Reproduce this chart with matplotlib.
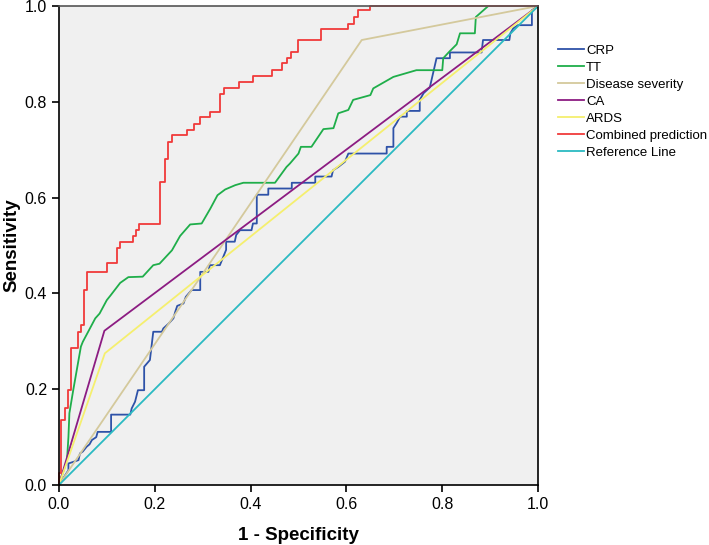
import matplotlib
matplotlib.use("Agg")
import matplotlib.pyplot as plt

plt.rcParams['font.family'] = ['Liberation Sans', 'DejaVu Sans']

# ROC curve vertices (1 - specificity, sensitivity)
crp_x = [0, 0.02, 0.02, 0.041, 0.044, 0.05, 0.058, 0.064, 0.069, 0.078, 0.081, 0.109, 0.109,
         0.149, 0.152, 0.159, 0.165, 0.178, 0.178, 0.19, 0.197, 0.215, 0.218, 0.229, 0.239,
         0.243, 0.247, 0.26, 0.265, 0.277, 0.295, 0.295, 0.312, 0.315, 0.336, 0.349, 0.349,
         0.367, 0.37, 0.378, 0.402, 0.405, 0.413, 0.413, 0.437, 0.437, 0.486, 0.486, 0.535,
         0.535, 0.569, 0.572, 0.583, 0.597, 0.604, 0.684, 0.684, 0.698, 0.698, 0.705, 0.712,
         0.726, 0.726, 0.753, 0.753, 0.761, 0.774, 0.788, 0.816, 0.816, 0.882, 0.885, 0.94,
         0.942, 0.948, 0.958, 0.987, 0.987, 1.0]
crp_y = [0, 0.031, 0.045, 0.052, 0.066, 0.07, 0.08, 0.085, 0.094, 0.1, 0.111, 0.111, 0.147,
         0.147, 0.16, 0.174, 0.198, 0.198, 0.247, 0.261, 0.32, 0.32, 0.327, 0.337, 0.348,
         0.362, 0.374, 0.379, 0.393, 0.407, 0.407, 0.445, 0.445, 0.459, 0.459, 0.491, 0.508,
         0.508, 0.522, 0.532, 0.532, 0.546, 0.546, 0.606, 0.606, 0.619, 0.619, 0.631, 0.631,
         0.644, 0.644, 0.657, 0.664, 0.675, 0.692, 0.692, 0.706, 0.706, 0.745, 0.756, 0.769,
         0.769, 0.781, 0.781, 0.804, 0.818, 0.83, 0.891, 0.891, 0.903, 0.903, 0.929, 0.929,
         0.943, 0.953, 0.96, 0.96, 0.991, 1.0]

tt_x = [0, 0.017, 0.02, 0.022, 0.03, 0.046, 0.05, 0.076, 0.085, 0.1, 0.108, 0.128, 0.145,
        0.175, 0.197, 0.21, 0.236, 0.253, 0.274, 0.298, 0.316, 0.331, 0.347, 0.368, 0.385,
        0.451, 0.475, 0.482, 0.5, 0.505, 0.527, 0.552, 0.573, 0.583, 0.604, 0.614, 0.65,
        0.656, 0.698, 0.746, 0.8, 0.802, 0.815, 0.83, 0.837, 0.868, 0.87, 0.896, 1.0]
tt_y = [0, 0.052, 0.1, 0.15, 0.198, 0.289, 0.299, 0.348, 0.358, 0.386, 0.396, 0.422, 0.434,
        0.435, 0.459, 0.462, 0.49, 0.52, 0.544, 0.546, 0.577, 0.605, 0.617, 0.626, 0.631,
        0.631, 0.664, 0.671, 0.692, 0.706, 0.706, 0.743, 0.745, 0.776, 0.783, 0.804, 0.814,
        0.828, 0.852, 0.866, 0.866, 0.891, 0.905, 0.92, 0.943, 0.943, 0.977, 1.0, 1.0]

sev_x = [0, 0.632, 1.0]
sev_y = [0, 0.929, 1.0]

ca_x = [0, 0.095, 1.0]
ca_y = [0, 0.322, 1.0]

ards_x = [0, 0.096, 1.0]
ards_y = [0, 0.275, 1.0]

comb_x = [0, 0, 0.005, 0.005, 0.012, 0.012, 0.02, 0.02, 0.025, 0.025, 0.04, 0.04, 0.047,
          0.047, 0.053, 0.053, 0.058, 0.058, 0.1, 0.1, 0.122, 0.122, 0.128, 0.128, 0.155,
          0.155, 0.16, 0.16, 0.167, 0.167, 0.211, 0.211, 0.222, 0.222, 0.228, 0.228, 0.236,
          0.236, 0.268, 0.268, 0.282, 0.282, 0.295, 0.295, 0.315, 0.315, 0.336, 0.336, 0.345,
          0.345, 0.376, 0.376, 0.406, 0.406, 0.444, 0.444, 0.465, 0.465, 0.475, 0.475, 0.485,
          0.485, 0.5, 0.5, 0.548, 0.548, 0.604, 0.604, 0.615, 0.615, 0.625, 0.625, 0.65,
          0.65, 1.0]
comb_y = [0, 0.025, 0.025, 0.136, 0.136, 0.16, 0.16, 0.198, 0.198, 0.286, 0.286, 0.32, 0.32,
          0.334, 0.334, 0.407, 0.407, 0.445, 0.445, 0.463, 0.463, 0.494, 0.494, 0.508, 0.508,
          0.52, 0.52, 0.532, 0.532, 0.544, 0.544, 0.633, 0.633, 0.68, 0.68, 0.717, 0.717,
          0.73, 0.73, 0.741, 0.741, 0.754, 0.754, 0.769, 0.769, 0.779, 0.779, 0.817, 0.817,
          0.828, 0.828, 0.842, 0.842, 0.854, 0.854, 0.866, 0.866, 0.88, 0.88, 0.891, 0.891,
          0.905, 0.905, 0.929, 0.929, 0.953, 0.953, 0.963, 0.963, 0.977, 0.977, 0.991, 0.991,
          1.0, 1.0]

ref_x = [0, 1]
ref_y = [0, 1]

fig = plt.figure(figsize=(7.09, 5.45), dpi=100)
ax = fig.add_axes([0.083, 0.110, 0.676, 0.879])
ax.set_facecolor('#f0f0f0')

lw = 1.3
ax.plot(crp_x, crp_y, color='#2e52a8', lw=lw, label='CRP')
ax.plot(tt_x, tt_y, color='#1fae4a', lw=lw, label='TT')
ax.plot(sev_x, sev_y, color='#d4c99c', lw=lw, label='Disease severity')
ax.plot(ca_x, ca_y, color='#8c1c82', lw=lw, label='CA')
ax.plot(ards_x, ards_y, color='#f5ef6e', lw=lw, label='ARDS')
ax.plot(comb_x, comb_y, color='#f03a3a', lw=lw, label='Combined prediction', clip_on=False)
ax.plot(ref_x, ref_y, color='#2bbac2', lw=lw, label='Reference Line')

ax.set_xlim(0, 1)
ax.set_ylim(0, 1)
ticks = [0.0, 0.2, 0.4, 0.6, 0.8, 1.0]
ax.set_xticks(ticks)
ax.set_yticks(ticks)
ax.set_xticklabels(['%.1f' % t for t in ticks])
ax.set_yticklabels(['%.1f' % t for t in ticks])
ax.tick_params(direction='out', length=5, width=1.2, labelsize=11.5, colors='black')

for s in ['left', 'bottom', 'right']:
    ax.spines[s].set_color('black')
    ax.spines[s].set_linewidth(1.2)
ax.spines['top'].set_color('#555555')
ax.spines['top'].set_linewidth(1.2)

ax.set_xlabel('1 - Specificity', fontsize=13.5, fontweight='bold', labelpad=11)
ax.set_ylabel('Sensitivity', fontsize=13.5, fontweight='bold', labelpad=3)

ax.legend(loc='upper left', bbox_to_anchor=(1.03, 0.93), frameon=False, fontsize=9.5,
          handlelength=2.0, handletextpad=0.15, labelspacing=0.36, borderaxespad=0)

fig.savefig('out.png', dpi=100)
